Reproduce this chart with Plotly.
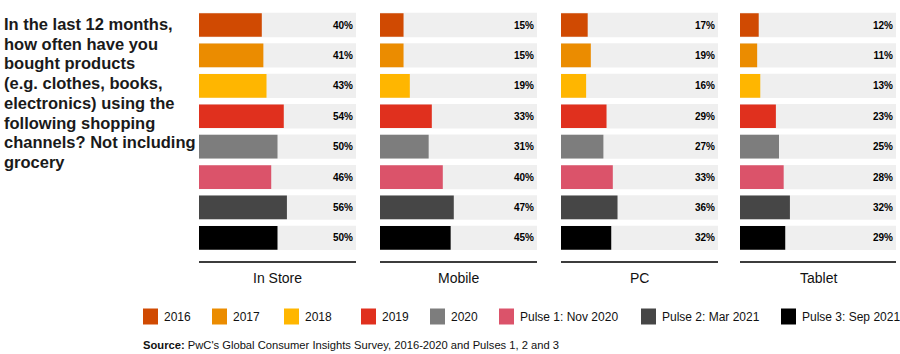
import plotly.graph_objects as go

# ---- data ----
channels = ["In Store", "Mobile", "PC", "Tablet"]
series = ["2016", "2017", "2018", "2019", "2020",
          "Pulse 1: Nov 2020", "Pulse 2: Mar 2021", "Pulse 3: Sep 2021"]
in_store = [40, 41, 43, 54, 50, 46, 56, 50]
mobile = [15, 15, 19, 33, 31, 40, 47, 45]
pc = [17, 19, 16, 29, 27, 33, 36, 32]
tablet = [12, 11, 13, 23, 25, 28, 32, 29]
values = [in_store, mobile, pc, tablet]
colors = ["#d04a02", "#eb8c00", "#ffb600", "#e0301e", "#7d7d7d",
          "#db536a", "#464646", "#000000"]
title_lines = ["In the last 12 months,", "how often have you", "bought products",
               "(e.g. clothes, books,", "electronics) using the", "following shopping",
               "channels? Not including", "grocery"]
source_text = "<b>Source:</b> PwC's Global Consumer Insights Survey, 2016-2020 and Pulses 1, 2 and 3"

# ---- layout constants ----
W, H = 900, 354
FONT = "Liberation Sans, Arial, sans-serif"
panel_px = [(199, 356), (380, 537), (561, 718), (740, 896)]
y_dom = [1 - 260.7 / H, 1 - 9.8 / H]
legend_px = [143, 212, 284, 361, 430, 499, 641, 781]

fig = go.Figure()
for j, ch in enumerate(channels):
    xa = "x" if j == 0 else f"x{j+1}"
    ya = "y" if j == 0 else f"y{j+1}"
    vals = values[j]
    fig.add_trace(go.Bar(
        x=[100] * len(series), y=series, orientation="h",
        marker=dict(color="#efefef", line=dict(width=0)), width=0.8,
        text=[f"{v}%" for v in vals], textposition="inside",
        insidetextanchor="end", textangle=0,
        textfont=dict(size=10, color="#000000", family=FONT, weight="bold"),
        xaxis=xa, yaxis=ya, showlegend=False, hoverinfo="skip"))
    for i, s in enumerate(series):
        fig.add_trace(go.Bar(
            x=[vals[i]], y=[s], orientation="h",
            marker=dict(color=colors[i], line=dict(width=0)), width=0.78,
            name=s, xaxis=xa, yaxis=ya, showlegend=False))

layout = dict(
    width=W, height=H, margin=dict(l=0, r=0, t=0, b=0),
    paper_bgcolor="white", plot_bgcolor="rgba(0,0,0,0)",
    barmode="overlay", showlegend=False,
    font=dict(family=FONT, color="#000000"),
)
annotations = []
shapes = []
for j, ch in enumerate(channels):
    sfx = "" if j == 0 else str(j + 1)
    x0, x1 = panel_px[j]
    layout[f"xaxis{sfx}"] = dict(
        domain=[x0 / W, x1 / W], range=[0, 100], anchor=f"y{sfx}",
        showline=True, linecolor="#3c3c3c", linewidth=2, showgrid=False,
        zeroline=False, showticklabels=False, ticks="", fixedrange=True)
    layout[f"yaxis{sfx}"] = dict(
        domain=y_dom, type="category", categoryorder="array",
        categoryarray=series, range=[7.75, -0.5], anchor=f"x{sfx}",
        showline=False, showgrid=False, zeroline=False,
        showticklabels=False, ticks="", fixedrange=True)
    annotations.append(dict(
        text=ch, xref=f"x{sfx} domain", x=0.5, yref="paper", y=1 - 278 / H,
        xanchor="center", yanchor="middle", showarrow=False,
        font=dict(size=14, family=FONT, color="#111111")))

for k, line in enumerate(title_lines):
    annotations.append(dict(
        text=line, xref="paper", x=2 / W, yref="paper",
        y=1 - (24 + 19.7 * k) / H, xanchor="left", yanchor="middle",
        showarrow=False, font=dict(size=16.5, family=FONT, color="#1a1a1a", weight="bold")))

for i, s in enumerate(series):
    lx = legend_px[i]
    shapes.append(dict(type="rect", xref="paper", yref="paper",
                       x0=lx / W, x1=(lx + 15) / W,
                       y0=1 - 324.5 / H, y1=1 - 308.5 / H,
                       fillcolor=colors[i], line=dict(width=0)))
    annotations.append(dict(
        text=s, xref="paper", x=(lx + 19) / W, yref="paper", y=1 - 316.5 / H,
        xanchor="left", yanchor="middle", showarrow=False,
        font=dict(size=12, family=FONT, color="#111111")))

annotations.append(dict(
    text=source_text, xref="paper", x=141 / W, yref="paper", y=1 - 345 / H,
    xanchor="left", yanchor="middle", showarrow=False,
    font=dict(size=11.2, family=FONT, color="#111111")))

layout["annotations"] = annotations
layout["shapes"] = shapes
fig.update_layout(**layout)
fig.write_html("out.html")
